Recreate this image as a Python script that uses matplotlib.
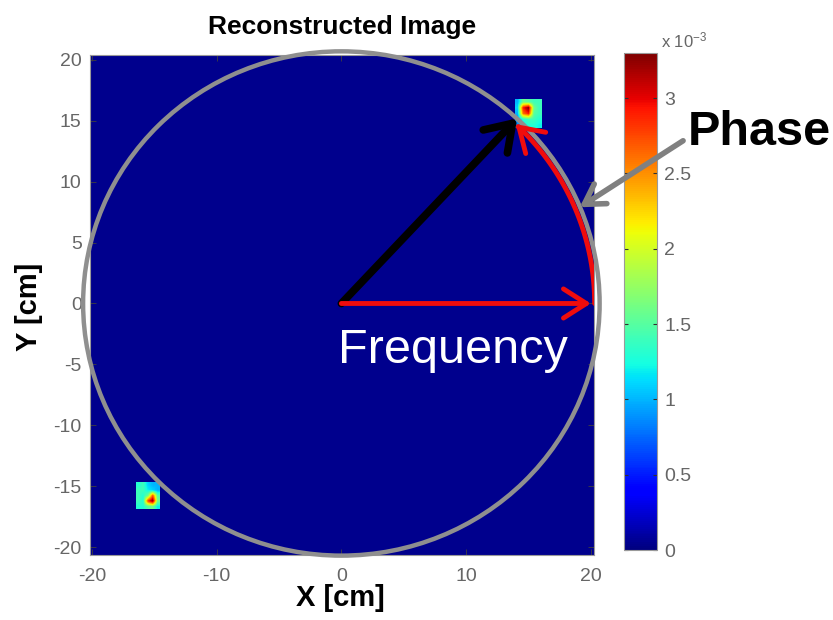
import numpy as np
import matplotlib
matplotlib.use("Agg")
import matplotlib.pyplot as plt
from matplotlib.patches import Circle, FancyArrowPatch
from matplotlib.path import Path
from matplotlib.colors import Normalize
from matplotlib.ticker import FixedFormatter

# ---------------- data ----------------
x_ticks = [-20, -10, 0, 10, 20]
y_ticks = [-20, -15, -10, -5, 0, 5, 10, 15, 20]
cbar_ticks = [0, 0.5, 1, 1.5, 2, 2.5, 3]
cbar_labels = ["0", "0.5", "1", "1.5", "2", "2.5", "3"]
vmin, vmax = 0.0, 3.3            # units of 1e-3
background_level = 0.05          # units of 1e-3

# reconstructed sources (units of 1e-3), rows top -> bottom
src_upper_extent = [13.95, 16.1, 14.4, 16.7]
src_upper = [
    [1.0, 1.6, 1.5, 1.4, 1.4],
    [1.1, 2.9, 3.3, 1.6, 1.4],
    [1.0, 2.6, 2.9, 1.5, 1.4],
    [0.9, 1.3, 1.4, 1.4, 1.3],
    [0.9, 1.2, 1.3, 1.3, 1.2],
]
src_lower_extent = [-16.5, -14.6, -16.9, -14.7]
src_lower = [
    [1.3, 1.4, 1.1, 1.0, 1.0],
    [1.4, 1.4, 1.2, 1.1, 1.0],
    [1.4, 1.3, 1.6, 2.7, 1.5],
    [1.4, 1.3, 2.8, 3.3, 1.6],
    [1.3, 1.3, 1.5, 1.6, 1.2],
]

circle_radius = 20.7
freq_start = (0.0, 0.0)
freq_tip = (20.0, 0.0)
target_tip = (14.1, 15.2)
phase_arc_radius = 20.3
phase_arc_deg = (0.0, 46.5)
phase_pointer_tip = (19.1, 7.9)
phase_text_pos = (27.8, 14.0)
freq_text_pos = (-0.3, -3.9)

xlim = (-20.15, 20.25)
ylim = (-20.65, 20.4)

# ---------------- figure ----------------
plt.rcParams["font.family"] = ["Liberation Sans", "DejaVu Sans"]
plt.rcParams["axes.unicode_minus"] = False
plt.rcParams["mathtext.default"] = "regular"

fig = plt.figure(figsize=(8.33, 6.2), dpi=100)
ax = fig.add_axes([0.1080, 0.1048, 0.6051, 0.8065])
cax = fig.add_axes([0.7491, 0.1129, 0.0400, 0.8016])
ax.set_zorder(3)

cmap = plt.get_cmap("jet")
norm = Normalize(vmin=vmin, vmax=vmax)

bg = np.full((41, 41), background_level)
im = ax.imshow(bg, cmap=cmap, norm=norm, extent=[xlim[0], xlim[1], ylim[0], ylim[1]],
               aspect="auto", interpolation="nearest", origin="upper")
ax.imshow(np.array(src_upper), cmap=cmap, norm=norm, extent=src_upper_extent,
          aspect="auto", interpolation="bilinear", origin="upper")
ax.imshow(np.array(src_lower), cmap=cmap, norm=norm, extent=src_lower_extent,
          aspect="auto", interpolation="bilinear", origin="upper")

ax.set_xlim(*xlim)
ax.set_ylim(*ylim)

# gray circle
ax.add_patch(Circle((0, 0), circle_radius, fill=False, edgecolor="#8f8f8f",
                    linewidth=3.2, clip_on=False, zorder=4))

# black arrow to target
ax.add_patch(FancyArrowPatch(freq_start, target_tip,
                             arrowstyle="->,head_length=0.6,head_width=0.4",
                             mutation_scale=30, color="black", linewidth=5.5,
                             shrinkA=0, shrinkB=0, zorder=5))

# red frequency arrow
ax.add_patch(FancyArrowPatch(freq_start, freq_tip,
                             arrowstyle="->,head_length=0.55,head_width=0.35",
                             mutation_scale=30, color="#f00c0c", linewidth=3.5,
                             shrinkA=0, shrinkB=0, zorder=6))

# red phase arc
ang = np.radians(np.linspace(phase_arc_deg[0], phase_arc_deg[1], 60))
arc_path = Path(np.column_stack([phase_arc_radius * np.cos(ang),
                                 phase_arc_radius * np.sin(ang)]))
ax.add_patch(FancyArrowPatch(path=arc_path,
                             arrowstyle="->,head_length=0.55,head_width=0.35",
                             mutation_scale=30, color="#f00c0c", linewidth=3.5,
                             shrinkA=0, shrinkB=0, zorder=6))

# texts
ax.text(freq_text_pos[0], freq_text_pos[1], "Frequency", color="white",
        fontsize=35, ha="left", va="center", zorder=7)
ax.annotate("Phase", xy=phase_pointer_tip, xytext=phase_text_pos,
            textcoords="data", fontsize=35, fontweight="bold", color="black",
            ha="left", va="center", annotation_clip=False, zorder=8,
            arrowprops=dict(arrowstyle="->,head_length=0.5,head_width=0.3",
                            mutation_scale=28, color="#808080", linewidth=4,
                            shrinkA=2, shrinkB=0, relpos=(0.0, 0.4)))

# axes styling
ax.set_xticks(x_ticks)
ax.set_yticks(y_ticks)
ax.tick_params(direction="in", length=4, width=0.6, color="#404040",
               top=True, right=True, labelsize=14, labelcolor="#666666")
ax.tick_params(axis="x", pad=9)
ax.tick_params(axis="y", pad=6)
for s in ax.spines.values():
    s.set_color("#9a9a9a")
    s.set_linewidth(0.8)

ax.set_xlabel("X [cm]", fontsize=21, fontweight="bold")
ax.xaxis.set_label_coords(0.497, -0.086)
ax.xaxis.label.set_va("center")
ax.set_ylabel("Y [cm]", fontsize=21, fontweight="bold")
ax.yaxis.set_label_coords(-0.121, 0.497)
ax.yaxis.label.set_va("center")

fig.text(342 / 833, 1 - 27 / 620, "Reconstructed Image", fontsize=19,
         fontweight="bold", ha="center", va="center")

# colorbar
cb = fig.colorbar(im, cax=cax)
cb.set_ticks(cbar_ticks)
cb.ax.yaxis.set_major_formatter(FixedFormatter(cbar_labels))
cax.tick_params(direction="in", length=3, width=0.8, color="#303030",
                left=True, right=True, labelsize=14, labelcolor="#666666", pad=5)
cb.outline.set_edgecolor("#9a9a9a")
cb.outline.set_linewidth(0.8)
fig.text(661 / 833, 1 - 40 / 620, "x 10$^{-3}$", fontsize=12, color="#666666",
         ha="left", va="center")

fig.savefig("out.png", dpi=100)
